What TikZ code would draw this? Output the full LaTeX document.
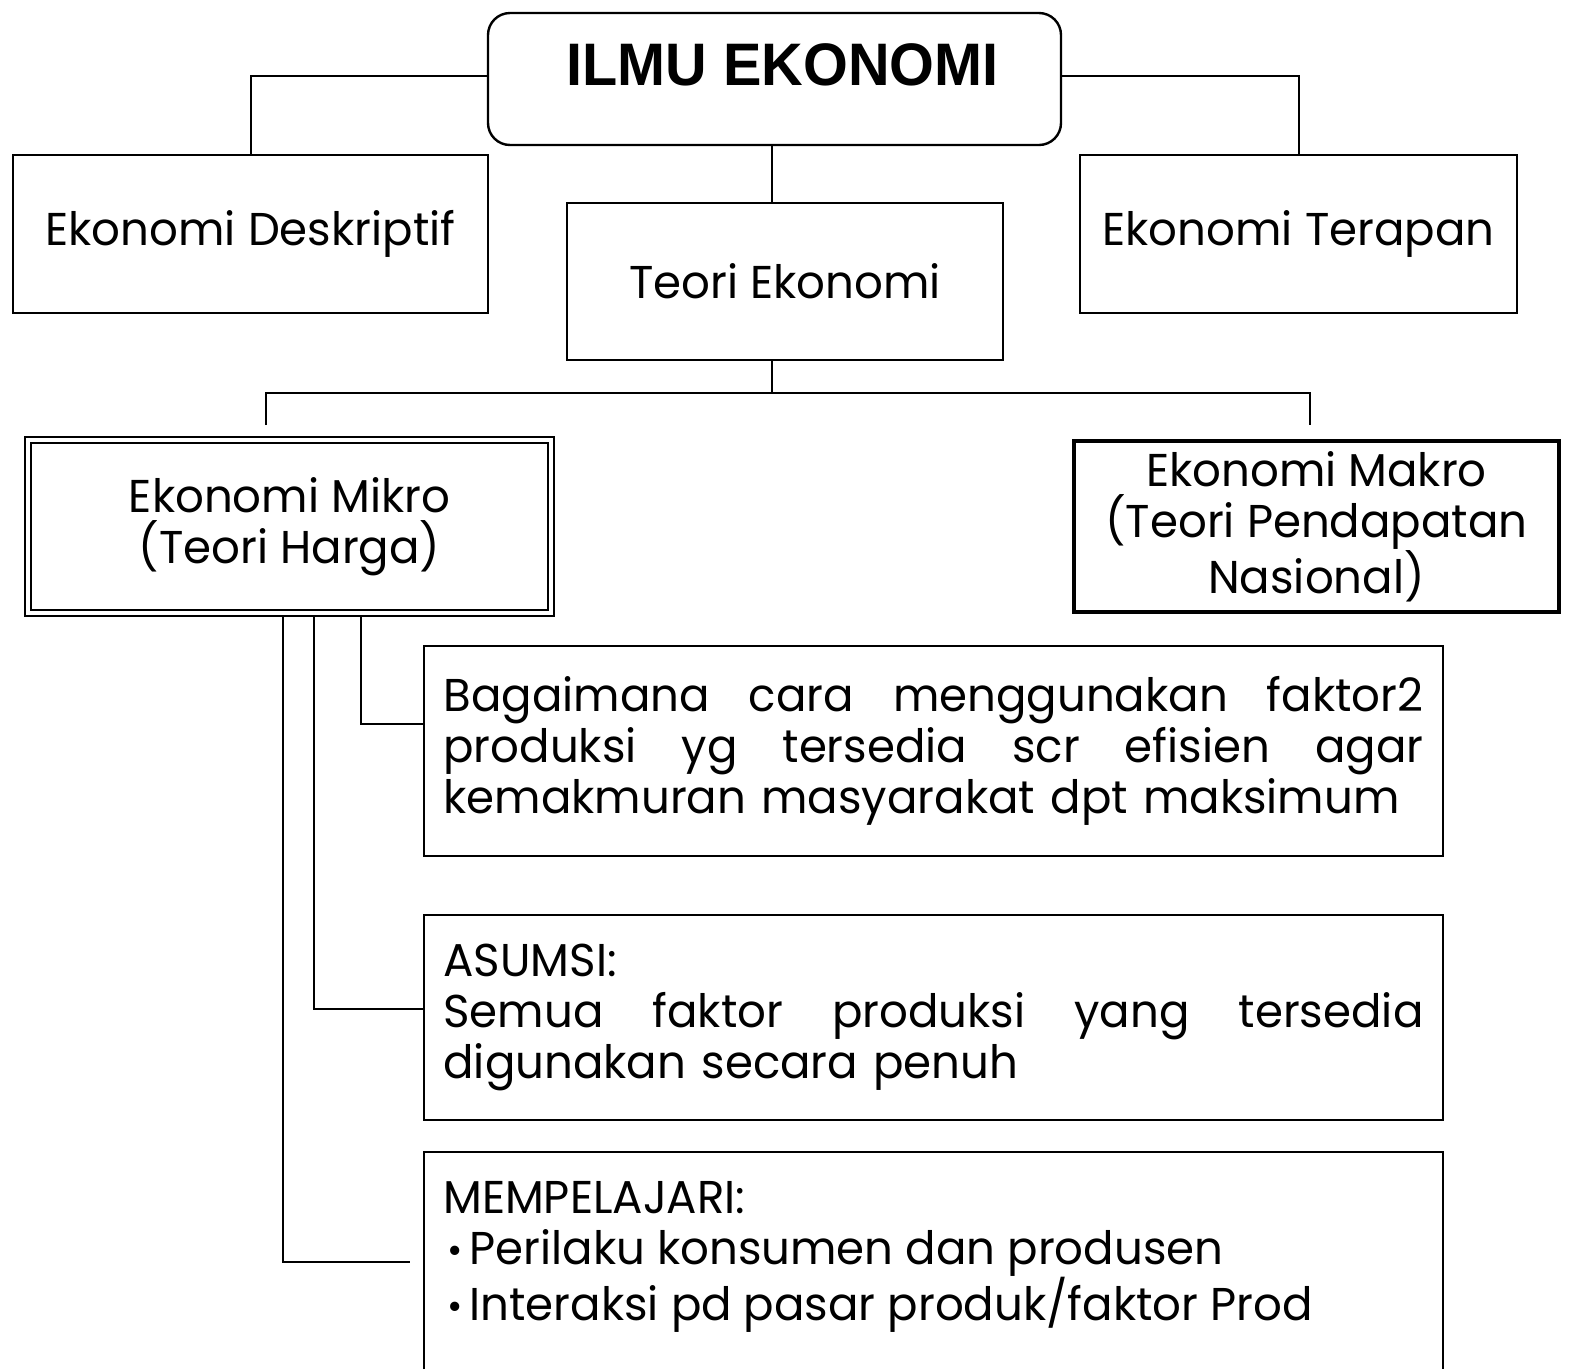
\documentclass[tikz,border=0pt]{standalone}
\usepackage{fontspec}
\newfontfamily\comic{Poppins}[FakeStretch=0.98]
\newfontfamily\arialb{Liberation Sans}[FakeStretch=0.96]
\newcommand\cfont{\comic\fontsize{46}{51}\selectfont}
\newcommand\jl[1]{\leavevmode\hbox to 980pt{#1}}
\newcommand\bul{\hspace*{4pt}\raisebox{1pt}{\fontsize{38}{38}\selectfont•}\hspace{7pt}}
\begin{document}
\begin{tikzpicture}[x=1pt,y=-1pt,
  box/.style={draw, line width=2.4pt, inner sep=0pt, font=\cfont, align=center},
  conn/.style={line width=2pt},
  parbox/.style={box, text width=980pt, align=left, inner xsep=19.5pt}]
\useasboundingbox (0,0) rectangle (1585,1369);
\fill[white] (0,0) rectangle (1585,1369);
% top
\node[box, rounded corners=22pt, minimum width=573pt, minimum height=132pt,
      font=\arialb\bfseries\fontsize{60}{66}\selectfont, text height=43pt, text depth=30pt]
      (ilmu) at (774.5,79) {\hspace*{16pt}ILMU EKONOMI};
\node[box, minimum width=475pt, minimum height=158pt] (desk) at (250.5,234) {Ekonomi Deskriptif};
\node[box, minimum width=436pt, minimum height=157pt] (teori) at (785,281.5) {Teori Ekonomi};
\node[box, minimum width=437pt, minimum height=158pt] (terapan) at (1298.5,234) {Ekonomi Terapan};
% middle
\node[box, double, line width=2.2pt, double distance=3.4pt, minimum width=523pt, minimum height=173pt]
      (mikro) at (289.5,526.5) {Ekonomi Mikro\\(Teori Harga)};
\node[box, line width=3.8pt, minimum width=485pt, minimum height=171pt]
      (makro) at (1316.5,526.5) {Ekonomi Makro\\(Teori Pendapatan\\Nasional)};
% detail boxes
\node[parbox, minimum width=1019pt, minimum height=210pt] (box1) at (933.5,751)
  {\jl{Bagaimana\hfill cara\hfill menggunakan\hfill faktor2}\\
   \jl{produksi\hfill yg\hfill tersedia\hfill scr\hfill efisien\hfill agar}\\
   kemakmuran masyarakat dpt maksimum};
\node[parbox, minimum width=1019pt, minimum height=205pt] (box2) at (933.5,1017.5)
  {ASUMSI:\\
   \jl{Semua\hfill faktor\hfill produksi\hfill yang\hfill tersedia}\\
   digunakan secara penuh};
\coordinate (b3tl) at (424,1152);
\coordinate (b3br) at (1443,1369);
\draw[line width=2.4pt] (b3tl |- b3br) -- (b3tl) -| (b3br);
\node[font=\cfont, align=left, anchor=north west, inner sep=0pt] (box3) at (443,1181)
  {MEMPELAJARI:\\
   \bul Perilaku konsumen dan produsen\\
   \bul Interaksi pd pasar produk/faktor Prod};
% connectors
\coordinate (hub) at (772,393);
\coordinate (mkL) at (266,425);
\coordinate (mkR) at (1310,425);
\coordinate (b3in) at (410,1262);
\draw[conn] ([yshift=3pt]ilmu.west) -| (desk.north);
\draw[conn] ([yshift=3pt]ilmu.east) -| (terapan.north);
\draw[conn] (ilmu.south -| hub) -- (teori.north -| hub);
\draw[conn] (teori.south -| hub) -- (hub);
\draw[conn] (mkL) |- (hub) -| (mkR);
\draw[conn] ([xshift=71.5pt,yshift=-3pt]mikro.south) |- ([yshift=27pt]box1.west);
\draw[conn] ([xshift=24.5pt,yshift=-3pt]mikro.south) |- ([yshift=8.5pt]box2.west);
\draw[conn] ([xshift=-6.5pt,yshift=-3pt]mikro.south) |- (b3in);
\end{tikzpicture}
\end{document}
